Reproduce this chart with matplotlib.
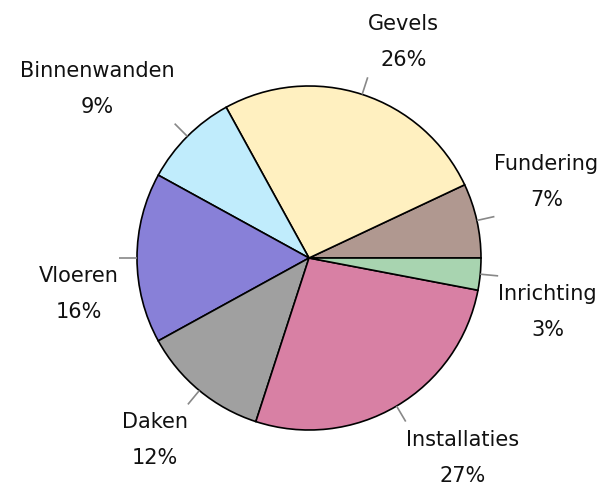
import numpy as np
import matplotlib
matplotlib.use("Agg")
from matplotlib import pyplot as plt

# slices, counter-clockwise from 3 o'clock
labels = ["Fundering", "Gevels", "Binnenwanden", "Vloeren", "Daken", "Installaties", "Inrichting"]
values = [7, 26, 9, 16, 12, 27, 3]
colors = ["#B09890", "#FFF0C0", "#C0ECFC", "#8880D8", "#A0A0A0", "#D880A4", "#A8D4B0"]

W, H = 608, 486
fig = plt.figure(figsize=(W / 100, H / 100), dpi=100)
ax = fig.add_axes([0, 0, 1, 1])

cx, cy, r = 309, H - 258, 172
wedges, _ = ax.pie(values, colors=colors, startangle=0, counterclock=True,
                   center=(cx, cy), radius=r, frame=True,
                   wedgeprops=dict(edgecolor="black", linewidth=1.2))
ax.set_xlim(0, W)
ax.set_ylim(0, H)
ax.set_aspect("equal")
ax.axis("off")

total = sum(values)
for w, lab, v in zip(wedges, labels, values):
    ang = np.deg2rad((w.theta1 + w.theta2) / 2)
    c, s = np.cos(ang), np.sin(ang)
    x0, y0 = cx + r * c, cy + r * s
    x1, y1 = cx + (r + 18) * c, cy + (r + 18) * s
    ax.plot([x0, x1], [y0, y1], color="#888888", lw=1.2, solid_capstyle="butt")
    ha = "left" if c > 0.01 else "right"
    va = "bottom" if s > 0.01 else "top"
    dy = 7 if va == "bottom" else -8
    ax.text(x1, y1 + dy, f"{lab}\n{round(100 * v / total)}%", ha=ha, va=va,
            multialignment="center", linespacing=2.0, fontsize=15,
            family="DejaVu Sans", color="#111111")

fig.savefig("out.png", dpi=100)
